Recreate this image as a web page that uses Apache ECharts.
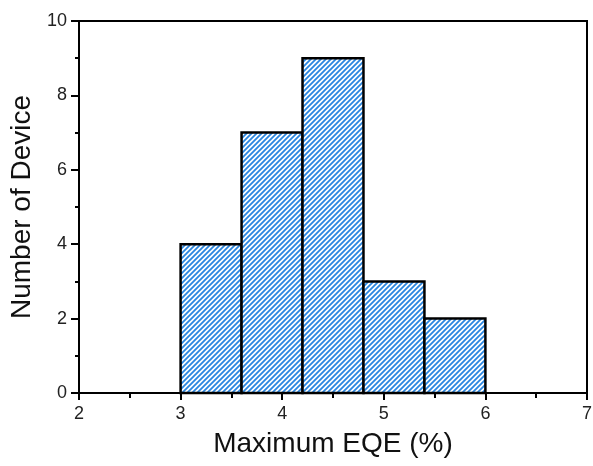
<!DOCTYPE html>
<html>
<head>
<meta charset="utf-8">
<script src="https://cdn.jsdelivr.net/npm/echarts@6/dist/echarts.min.js"></script>
<style>
html,body{margin:0;padding:0;background:#fff;}
#chart{width:593px;height:466px;}
</style>
</head>
<body>
<div id="chart"></div>
<script>
// Histogram bins (Maximum EQE %) and counts
const binStarts = [3.0, 3.6, 4.2, 4.8, 5.4];
const binEnds   = [3.6, 4.2, 4.8, 5.4, 6.0];
const counts    = [4, 7, 9, 3, 2];
const xTitle = 'Maximum EQE (%)';
const yTitle = 'Number of Device';

function makeHatch() {
  const s = 5;
  const c = document.createElement('canvas');
  c.width = s; c.height = s;
  const g = c.getContext('2d');
  g.fillStyle = '#ffffff';
  g.fillRect(0, 0, s, s);
  g.strokeStyle = '#2a86e0';
  g.lineWidth = 1.8;
  g.beginPath();
  g.moveTo(-1, s + 1); g.lineTo(s + 1, -1);
  g.moveTo(-1, 1); g.lineTo(1, -1);
  g.moveTo(s - 1, s + 1); g.lineTo(s + 1, s - 1);
  g.stroke();
  return c;
}
const hatch = makeHatch();

const data = binStarts.map((s, i) => [s, binEnds[i], counts[i]]);

const chart = echarts.init(document.getElementById('chart'), null, {renderer: 'canvas'});
const font = 'Liberation Sans, Arial, sans-serif';
chart.setOption({
  animation: false,
  grid: {left: 79, top: 21, right: 6, bottom: 73, containLabel: false, outerBoundsMode: 'none',
         show: true, borderColor: '#000', borderWidth: 2, backgroundColor: 'transparent'},
  xAxis: {
    type: 'value', min: 2, max: 7, interval: 1,
    name: xTitle, nameLocation: 'middle', nameGap: 37,
    nameTextStyle: {fontSize: 28, color: '#111', fontFamily: font},
    axisLine: {show: true, lineStyle: {color: '#000', width: 2}},
    axisTick: {show: true, inside: false, length: 7, lineStyle: {color: '#000', width: 2}},
    minorTick: {show: true, splitNumber: 2, length: 5, lineStyle: {color: '#000', width: 2}},
    axisLabel: {fontSize: 18, color: '#222', fontFamily: font, margin: 12},
    splitLine: {show: false}
  },
  yAxis: {
    type: 'value', min: 0, max: 10, interval: 2,
    name: yTitle, nameLocation: 'middle', nameGap: 41,
    nameTextStyle: {fontSize: 28, color: '#111', fontFamily: font},
    axisLine: {show: true, lineStyle: {color: '#000', width: 2}},
    axisTick: {show: true, inside: false, length: 8, lineStyle: {color: '#000', width: 2}},
    minorTick: {show: true, splitNumber: 2, length: 4, lineStyle: {color: '#000', width: 2}},
    axisLabel: {fontSize: 18, color: '#222', fontFamily: font, margin: 12},
    splitLine: {show: false}
  },
  series: [{
    type: 'custom',
    data: data,
    encode: {x: [0, 1], y: 2},
    renderItem: function (params, api) {
      const p0 = api.coord([api.value(0), api.value(2)]);
      const p1 = api.coord([api.value(1), 0]);
      return {
        type: 'rect',
        shape: {x: p0[0], y: p0[1], width: p1[0] - p0[0], height: p1[1] - p0[1]},
        style: {fill: {image: hatch, repeat: 'repeat'}, stroke: '#000', lineWidth: 2.5}
      };
    }
  }]
});
</script>
</body>
</html>
